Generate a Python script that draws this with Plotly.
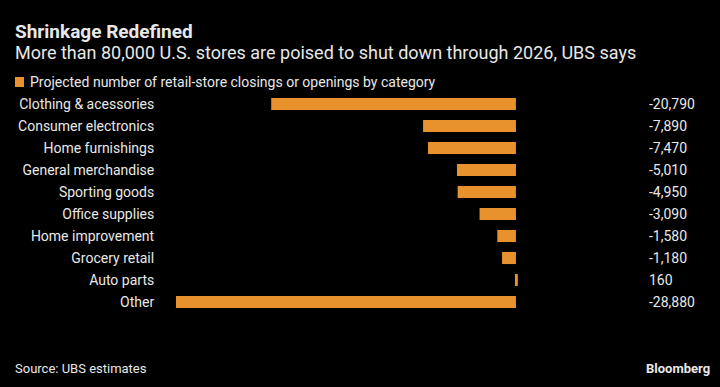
import plotly.graph_objects as go

categories = ["Clothing & acessories", "Consumer electronics", "Home furnishings",
              "General merchandise", "Sporting goods", "Office supplies",
              "Home improvement", "Grocery retail", "Auto parts", "Other"]
values = [-20790, -7890, -7470, -5010, -4950, -3090, -1580, -1180, 160, -28880]
value_labels = ["-20,790", "-7,890", "-7,470", "-5,010", "-4,950", "-3,090",
                "-1,580", "-1,180", "160", "-28,880"]
legend_label = "Projected number of retail-store closings or openings by category"

FONT = "Liberation Sans Narrow, Roboto, Arial Narrow, sans-serif"
ORANGE = "#E8922E"
TEXT = "#E8E8E8"

W, H = 720, 387
ml, mr = 176, 197
mt, mb = 93, 74
xr = [-28880, 600]
plot_w = W - ml - mr
plot_h = H - mt - mb


def px_x(xpx):
    return (xpx - ml) / plot_w


def px_y(ypx):
    return (H - mb - ypx) / plot_h


fig = go.Figure()
fig.add_trace(go.Bar(
    x=values, y=categories, orientation="h",
    marker=dict(color=ORANGE, line=dict(width=0)),
    width=0.55, showlegend=False, hoverinfo="skip",
))

val_x = px_x(647)
for c, t in zip(categories, value_labels):
    fig.add_annotation(x=val_x, xref="paper", y=c, yref="y", text=t,
                       showarrow=False, xanchor="left",
                       font=dict(family=FONT, size=14, color=TEXT))

for (xpx, ypx, text, size, bold, anchor) in [
    (13, 31, "Shrinkage Redefined", 19, True, "left"),
    (13, 52, "More than 80,000 U.S. stores are poised to shut down through 2026, UBS says", 18, False, "left"),
    (28, 82, legend_label, 14, False, "left"),
    (13, 368, "Source: UBS estimates", 13, False, "left"),
    (712, 369, "Bloomberg", 13, True, "right"),
]:
    fig.add_annotation(x=px_x(xpx), y=px_y(ypx),
                       xref="paper", yref="paper",
                       text=("<b>%s</b>" % text) if bold else text,
                       showarrow=False, xanchor=anchor, yanchor="middle",
                       font=dict(family=FONT, size=size, color=TEXT))

# legend swatch
fig.add_shape(type="rect", xref="paper", yref="paper",
              x0=px_x(15), x1=px_x(24), y0=px_y(87), y1=px_y(77),
              fillcolor=ORANGE, line=dict(width=0))

fig.update_layout(
    width=W, height=H,
    paper_bgcolor="#000000", plot_bgcolor="#000000",
    margin=dict(l=ml, r=mr, t=mt, b=mb, autoexpand=False),
    font=dict(family=FONT, color=TEXT, size=14),
    xaxis=dict(range=xr, visible=False, fixedrange=True),
    yaxis=dict(autorange="reversed", showgrid=False, zeroline=False,
               showline=False, ticks="outside", ticklen=18, tickcolor="rgba(0,0,0,0)",
               tickfont=dict(family=FONT, size=14, color=TEXT), fixedrange=True),
    showlegend=False,
)

fig.write_html("out.html", config={"displayModeBar": False},
               post_script="document.body.style.margin='0';document.body.style.background='#000';")
